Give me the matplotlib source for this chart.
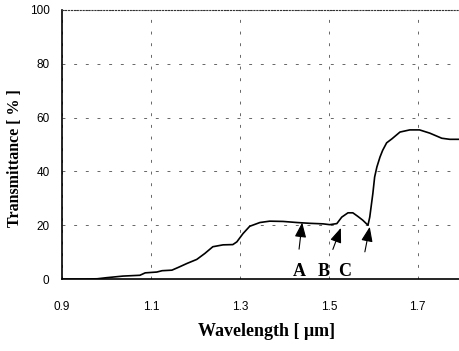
import numpy as np
import matplotlib
matplotlib.use('Agg')
import matplotlib.pyplot as plt

# Transmittance spectrum
wavelength = [0.90, 0.95, 0.979, 1.00, 1.037, 1.075, 1.087, 1.113, 1.125, 1.147,
              1.161, 1.181, 1.203, 1.221, 1.239, 1.262, 1.284, 1.293, 1.307, 1.322,
              1.345, 1.367, 1.397, 1.428, 1.457, 1.487, 1.502, 1.518, 1.529, 1.543,
              1.554, 1.565, 1.576, 1.588, 1.592, 1.599, 1.603, 1.608, 1.615, 1.621,
              1.630, 1.642, 1.660, 1.682, 1.704, 1.727, 1.754, 1.772, 1.795]
transmittance = [0.0, 0.0, 0.1, 0.5, 1.1, 1.4, 2.3, 2.6, 3.1, 3.3,
                 4.3, 5.8, 7.3, 9.5, 12.0, 12.7, 12.8, 13.8, 16.9, 19.6,
                 21.0, 21.5, 21.4, 21.0, 20.7, 20.5, 20.2, 20.6, 23.0, 24.6,
                 24.6, 23.3, 21.9, 20.0, 23.0, 31.8, 37.9, 41.6, 45.3, 47.8,
                 50.6, 52.1, 54.6, 55.4, 55.4, 54.2, 52.3, 51.9, 51.9]

# arrows: label, label x, tip x/y, tail x/y
marker_labels = ['A', 'B', 'C']
label_x = [1.433, 1.489, 1.536]
tip_x = [1.440, 1.527, 1.592]
tip_y = [21.0, 19.0, 19.4]
tail_x = [1.433, 1.509, 1.581]
tail_y = [11.1, 11.0, 10.1]

xticks = [0.9, 1.1, 1.3, 1.5, 1.7]
yticks = [0, 20, 40, 60, 80, 100]

serif = 'Liberation Serif'
sans = 'Liberation Sans'

fig = plt.figure(figsize=(4.6, 3.51), dpi=100)
ax = fig.add_axes([0.135, 0.205, 0.865, 0.767])

ax.plot(wavelength, transmittance, color='black', lw=1.2)

for lab, lx, tx, ty, sx, sy in zip(marker_labels, label_x, tip_x, tip_y, tail_x, tail_y):
    ax.annotate('', xy=(tx, ty), xytext=(sx, sy),
                arrowprops=dict(arrowstyle='-|>,head_length=0.9,head_width=0.35',
                                color='black', lw=0.8, shrinkA=0, shrinkB=0))
    ax.text(lx, 2.9, lab, ha='center', va='center', fontsize=13,
            fontweight='bold', family=serif)

ax.set_xlim(0.9, 1.795)
ax.set_ylim(0, 100)
ax.set_xticks(xticks)
ax.set_yticks(yticks)
ax.set_xticklabels([f'{v:.1f}' for v in xticks], family=sans, fontsize=8.5)
ax.set_yticklabels([str(v) for v in yticks], family=sans, fontsize=8.5)
ax.tick_params(axis='x', length=0, pad=16)
ax.tick_params(axis='y', length=0, pad=9)

ax.grid(True, color='#666666', lw=0.7, linestyle=(0, (3, 9)))
ax.spines['right'].set_visible(False)
ax.spines['top'].set_linestyle(':')
ax.spines['top'].set_color('#333333')
ax.spines['left'].set_linewidth(1.2)
ax.spines['bottom'].set_linewidth(1.2)

fig.text(15 / 460, 1 - 158 / 351, 'Transmittance [ % ]', rotation=90,
         ha='center', va='center', fontsize=11.5, fontweight='bold', family=serif)
fig.text(267 / 460, 1 - 332 / 351, 'Wavelength [ μm]', ha='center', va='center',
         fontsize=13, fontweight='bold', family=serif)

fig.savefig('out.png', dpi=100)
